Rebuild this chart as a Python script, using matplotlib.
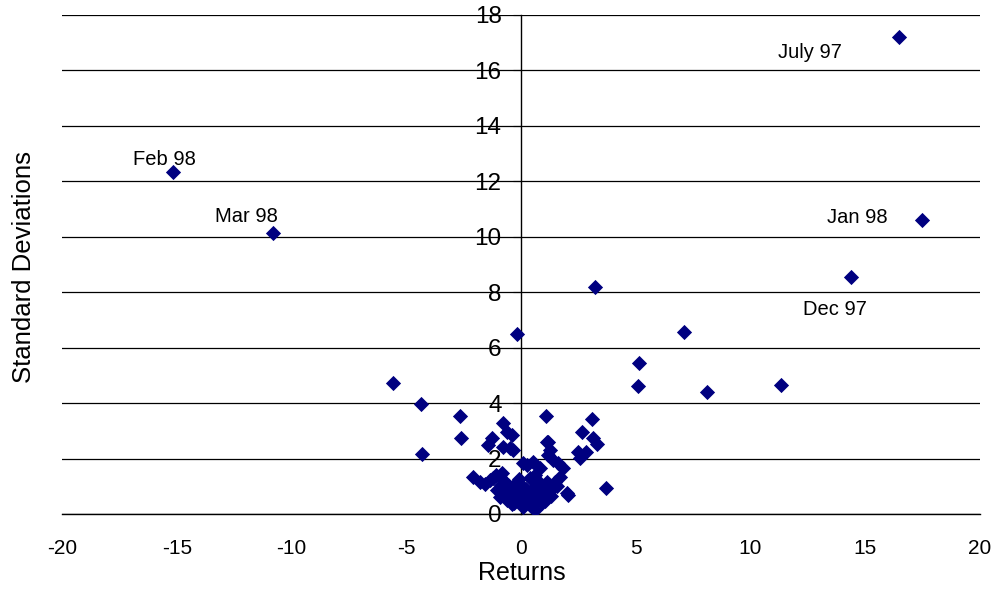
import numpy as np
import matplotlib.pyplot as plt

# monthly returns (x) vs standard deviations (y)
returns = [
    -15.16, -10.81, 16.47, 17.47, 14.38, 3.22, 7.10, -0.17, 5.14, 5.10,
    11.33, 8.10, -5.58, -4.36, -4.31, -2.64, -2.61, 3.72, 1.11, 3.09,
    2.66, 3.31, 3.12, 2.50, 2.83, 1.13, 2.05, 2.57, -0.78, -0.61,
    -0.39, -1.28, -1.44, -0.78, -0.35, 1.18, 1.18, 1.39, 1.83, 0.09,
    0.52, -2.09, -1.79, -1.57, -1.22, -0.92, -0.70, -1.05, -0.92, -0.61,
    -0.26, -0.35, -0.48, -0.13, 0.09, 0.26, 0.39, 0.61, 0.92, 0.83,
    0.48, 0.39, 0.61, 0.26, 0.83, 1.13, 1.18, 1.39, 1.48, 1.70,
    1.61, 2.00, 1.26, -0.48, -1.35, -0.83, -0.55, -0.20, 0.15, 0.70,
    1.00, -0.40, -0.75, -1.10, 0.05, 0.35, 0.75, 1.05, -0.10, 0.55,
    -0.65, 0.20, -0.30, 0.95, 1.30, -0.85, 0.45, -0.15, 0.65, 1.55,
]
std_devs = [
    12.34, 10.14, 17.21, 10.60, 8.55, 8.19, 6.57, 6.49, 5.45, 4.62,
    4.65, 4.40, 4.73, 3.97, 2.16, 3.54, 2.74, 0.94, 3.54, 3.43,
    2.96, 2.53, 2.74, 2.24, 2.24, 2.60, 0.69, 2.02, 3.28, 2.96,
    2.85, 2.74, 2.49, 2.42, 2.31, 2.60, 2.13, 1.95, 1.66, 1.84,
    1.88, 1.33, 1.15, 1.08, 1.30, 1.33, 1.15, 0.87, 0.61, 0.50,
    0.58, 0.94, 0.79, 0.76, 0.25, 0.50, 0.32, 0.14, 0.40, 0.69,
    0.87, 1.30, 1.41, 1.77, 1.66, 1.15, 0.79, 0.94, 1.15, 1.33,
    1.84, 0.76, 2.31, 2.38, 1.23, 1.48, 1.05, 1.10, 0.95, 1.00,
    0.60, 0.35, 0.85, 1.40, 0.55, 0.70, 1.20, 0.45, 1.25, 0.95,
    0.70, 0.90, 0.40, 0.85, 0.65, 1.05, 0.30, 0.55, 0.55, 1.00,
]

# month labels and where their text sits (centre x, baseline y)
labels = ["Feb 98", "Mar 98", "July 97", "Jan 98", "Dec 97"]
label_x = [-15.53, -11.98, 12.57, 14.66, 13.68]
label_y = [12.59, 10.53, 16.45, 10.50, 7.18]

plt.rcParams['font.family'] = ['Liberation Sans', 'DejaVu Sans']
plt.rcParams['axes.unicode_minus'] = False

fig = plt.figure(figsize=(10, 5.92), dpi=100)
ax = fig.add_axes([0.062, 0.1318, 0.918, 0.8429])

ax.scatter(returns, std_devs, marker='D', s=60, color='#000080', zorder=3, linewidths=0)

for lab, lx, ly in zip(labels, label_x, label_y):
    ax.text(lx, ly, lab, fontsize=14.5, ha='center', va='baseline')

ax.set_xlim(-20, 20)
ax.set_ylim(0, 18)
ax.set_xticks(np.arange(-20, 21, 5))
ax.set_yticks(np.arange(0, 19, 2))

ax.yaxis.grid(True, color='black', linewidth=0.9)
ax.set_axisbelow(True)

for side in ['top', 'right']:
    ax.spines[side].set_visible(False)
ax.spines['left'].set_position(('data', 0))
ax.spines['left'].set_linewidth(1)
ax.spines['bottom'].set_linewidth(1)

ax.tick_params(axis='x', length=0, labelsize=15, pad=18)
ax.tick_params(axis='y', direction='out', length=6, labelsize=17.5, pad=8)

ax.set_xlabel("Returns", fontsize=18)
ax.xaxis.label.set_va('baseline')
ax.xaxis.set_label_coords(0.501, -0.1323)

ax.set_ylabel("Standard Deviations", fontsize=18.5)
ax.yaxis.label.set_va('center')
ax.yaxis.set_label_coords(-0.0414, 0.494)

fig.savefig("out.png", dpi=100)
